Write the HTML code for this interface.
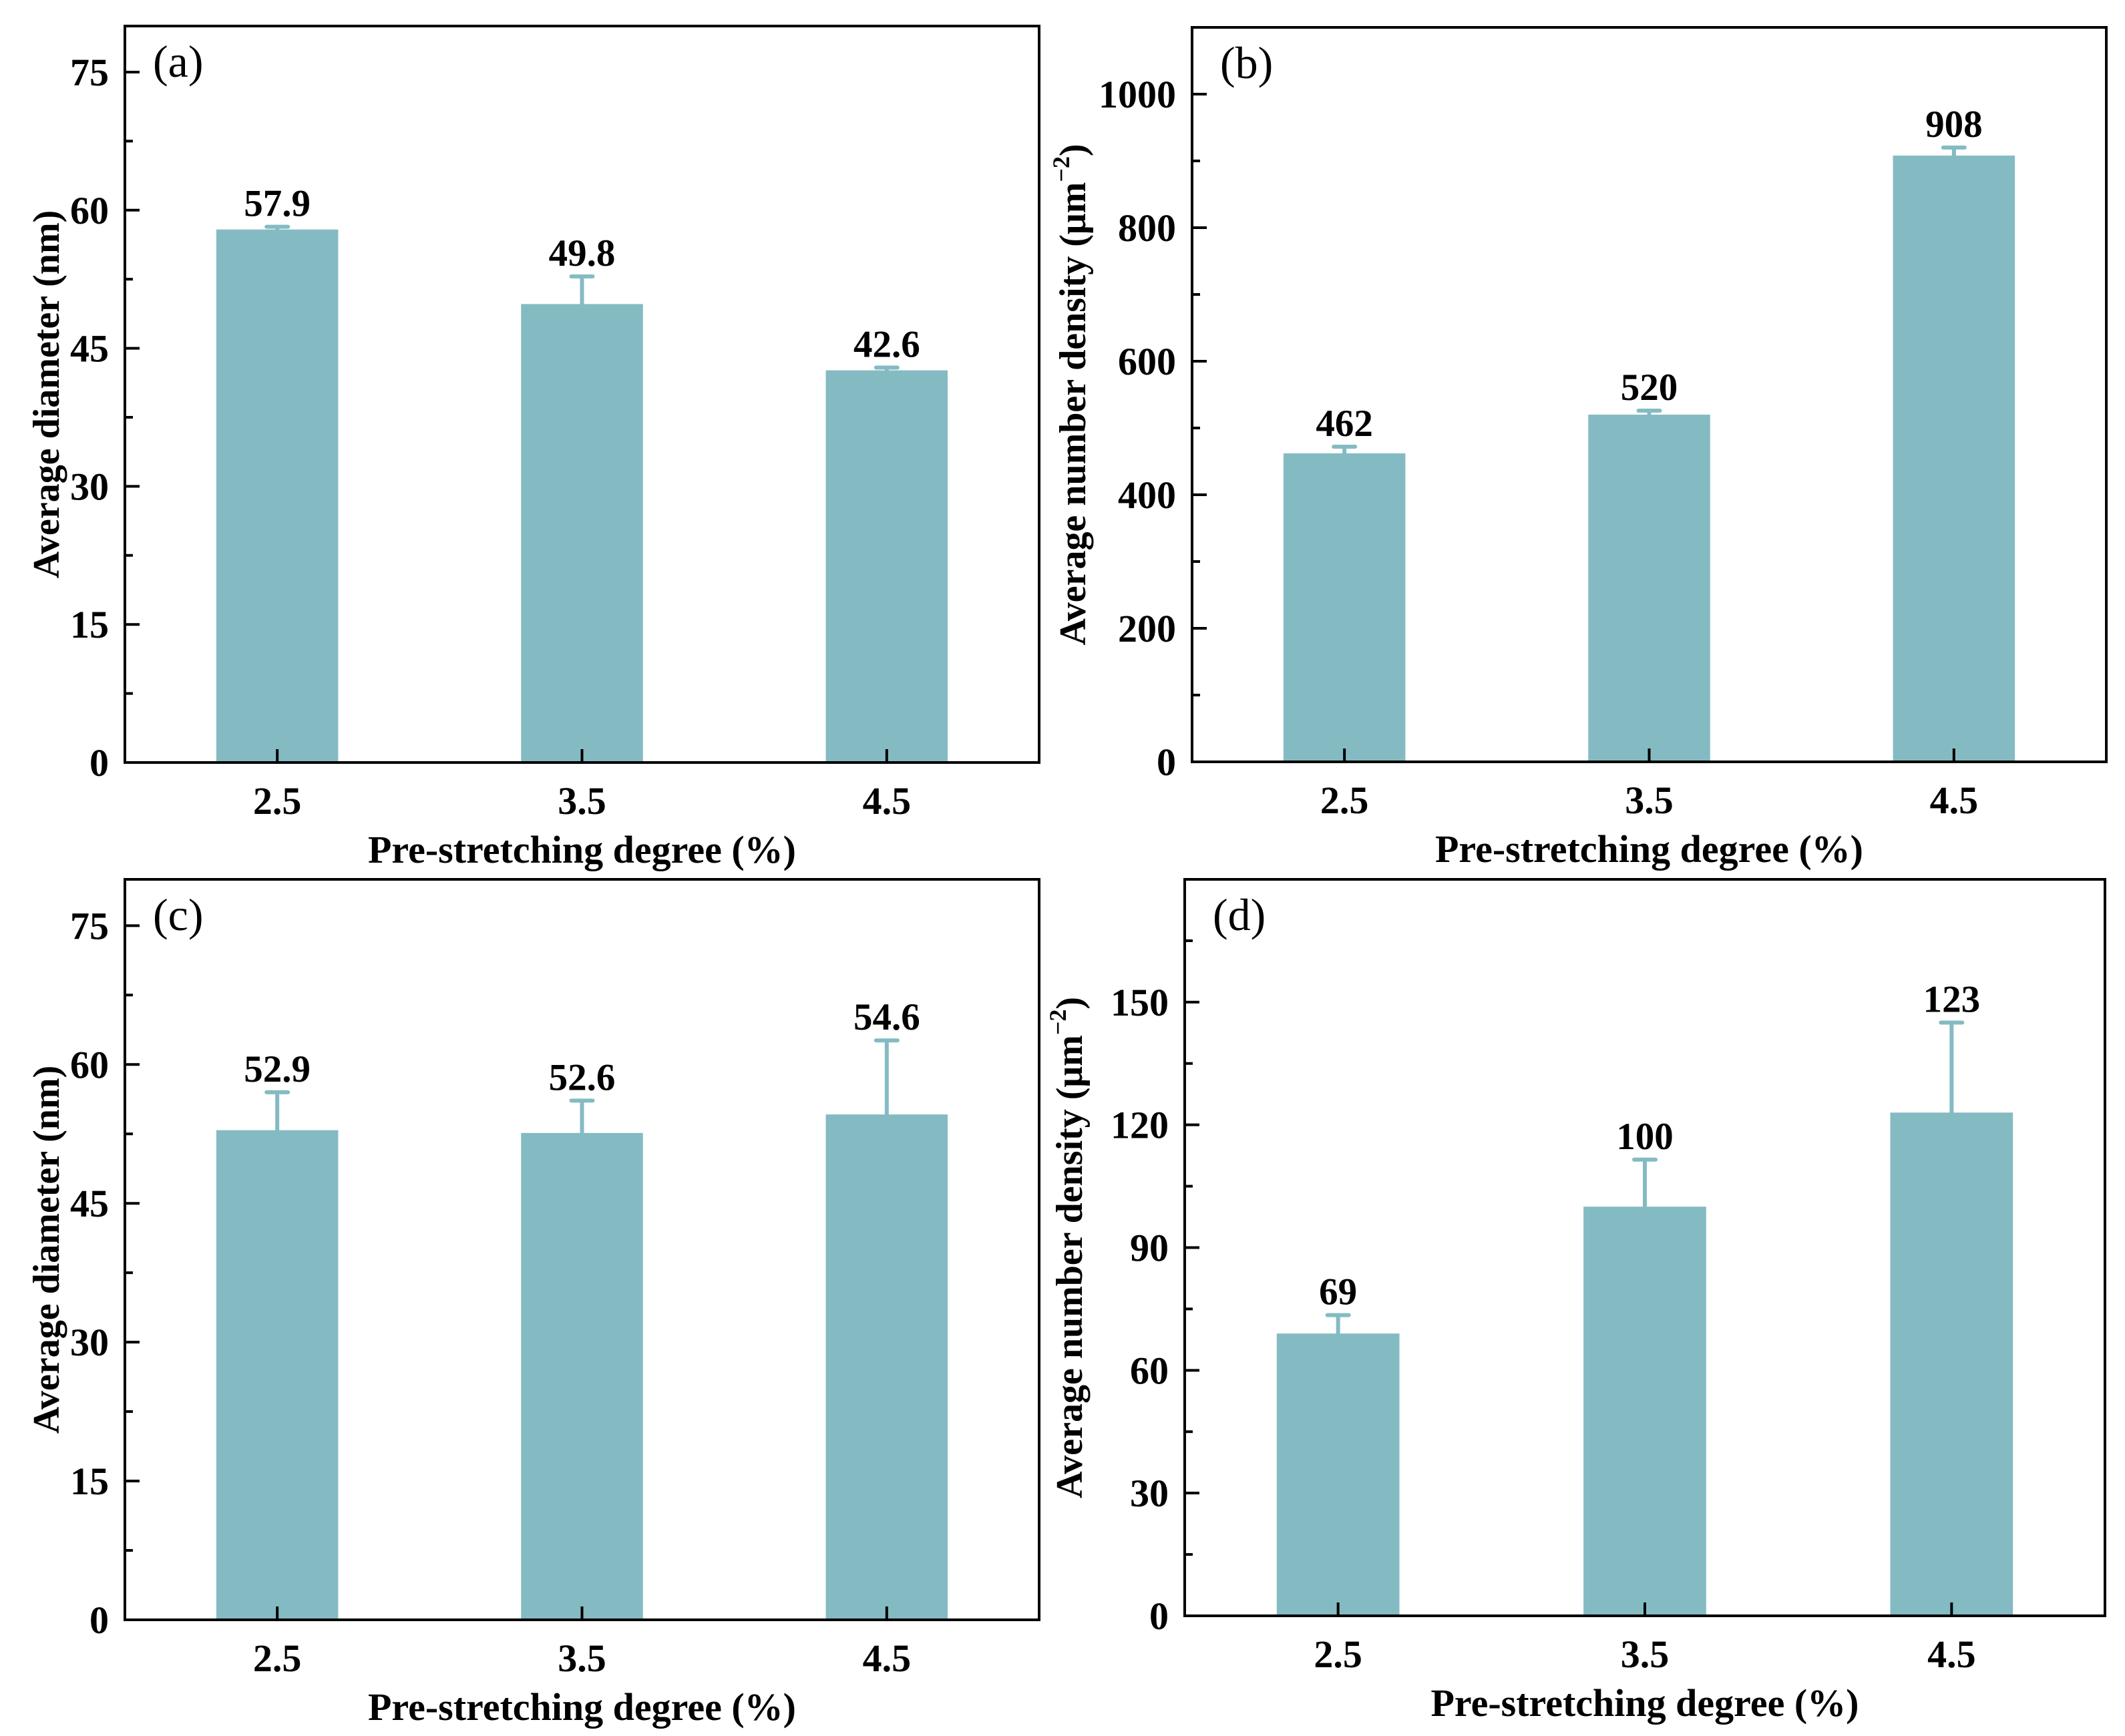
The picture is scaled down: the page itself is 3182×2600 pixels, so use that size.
<!DOCTYPE html>
<html><head><meta charset="utf-8">
<style>
html,body{margin:0;padding:0;background:#fff;}
svg{display:block;}
text{font-family:"Liberation Serif",serif;fill:#000;}
</style></head>
<body>
<svg id="fig" width="3182" height="2600" viewBox="0 0 3182 2600" xmlns="http://www.w3.org/2000/svg"></svg>
<script>
const categories = ["2.5", "3.5", "4.5"];
const valuesA = [57.9, 49.8, 42.6];
const errorsA = [0.3, 3.0, 0.3];
const valuesB = [462, 520, 908];
const errorsB = [10, 6, 12];
const valuesC = [52.9, 52.6, 54.6];
const errorsC = [4.1, 3.5, 8.0];
const valuesD = [69, 100, 123];
const errorsD = [4.5, 11.5, 22];
const ticksA = [0, 15, 30, 45, 60, 75];
const ticksB = [0, 200, 400, 600, 800, 1000];
const ticksC = [0, 15, 30, 45, 60, 75];
const ticksD = [0, 30, 60, 90, 120, 150];
const labelsA = ["57.9", "49.8", "42.6"];
const labelsB = ["462", "520", "908"];
const labelsC = ["52.9", "52.6", "54.6"];
const labelsD = ["69", "100", "123"];

const NS = "http://www.w3.org/2000/svg";
const svg = document.getElementById("fig");
function mk(tag, attrs, parent) {
  const e = document.createElementNS(NS, tag);
  for (const k in attrs) e.setAttribute(k, attrs[k]);
  parent.appendChild(e);
  return e;
}
const BAR = "#84bbc3";

function panel(cfg) {
  const g = mk("g", {}, svg);
  
  
  const L = cfg.left, R = cfg.right, T = cfg.top, B = cfg.bottom;
  const xScale = v => L + (v - 2.0) / 3.0 * (R - L);
  const yScale = v => B - v / cfg.ymax * (B - T);
  const xs = categories.map(c => parseFloat(c));
  cfg.values.forEach((v, i) => {
    const x = xScale(xs[i]);
    const hw = 0.2 / 3.0 * (R - L);
    const r = mk("rect", {x: x - hw, y: yScale(v), width: 2 * hw, height: B - yScale(v), fill: BAR}, g);
    
    
    const top = yScale(v + cfg.errors[i]);
    const eg = mk("g", {stroke: BAR, "stroke-width": 6, "stroke-linecap": "round"}, g);
    
    
    mk("line", {x1: x, x2: x, y1: yScale(v), y2: top}, eg);
    mk("line", {x1: x - 16, x2: x + 16, y1: top, y2: top}, eg);
    const t = mk("text", {x: x, y: top - 16, "font-size": 57, "font-weight": "bold", "text-anchor": "middle"}, g);
    t.textContent = cfg.labels[i];
    
    
  });
  const f = mk("rect", {x: L, y: T, width: R - L, height: B - T, fill: "none", stroke: "#000", "stroke-width": 4}, g);
  
  
  const step = cfg.ticks[1] - cfg.ticks[0];
  for (let v = 0; v <= cfg.ymax + 1e-9; v += step / 2) {
    const major = cfg.ticks.some(t => Math.abs(t - v) < 1e-9);
    const y = yScale(v);
    if (y < T + 2) continue;
    mk("line", {x1: L, x2: L + (major ? 22 : 12), y1: y, y2: y, stroke: "#000", "stroke-width": 4}, g);
  }
  cfg.ticks.forEach(v => {
    const t = mk("text", {x: L - 24, y: yScale(v) + 20, "font-size": 58, "font-weight": "bold", "text-anchor": "end"}, g);
    t.textContent = String(v);
    
    
  });
  xs.forEach((xv, i) => {
    const x = xScale(xv);
    mk("line", {x1: x, x2: x, y1: B, y2: B - 20, stroke: "#000", "stroke-width": 4}, g);
    const t = mk("text", {x: x, y: B + 77, "font-size": 58, "font-weight": "bold", "text-anchor": "middle"}, g);
    t.textContent = categories[i];
    
    
  });
  const xt = mk("text", {x: (L + R) / 2, y: B + 150, "font-size": 58, "font-weight": "bold", "text-anchor": "middle"}, g);
  xt.textContent = "Pre-stretching degree (%)";
  
  
  const ty = (T + B) / 2;
  const yt = mk("text", {x: cfg.ytx, y: ty, "font-size": 56, "font-weight": "bold", "text-anchor": "middle", transform: "rotate(-90 " + cfg.ytx + " " + ty + ")"}, g);
  if (cfg.density) {
    yt.appendChild(document.createTextNode("Average number density (μm"));
    const s = mk("tspan", {"font-size": 36, dy: -24}, yt);
    s.textContent = "−2";
    const s2 = mk("tspan", {dy: 24}, yt);
    s2.textContent = ")";
  } else {
    yt.textContent = "Average diameter (nm)";
  }
  
  
  const pl = mk("text", {x: L + 42, y: T + 76, "font-size": 68, "text-anchor": "start"}, g);
  pl.textContent = "(" + cfg.id + ")";
  
  
}

panel({id: "a", left: 187, right: 1556, top: 39, bottom: 1142, ymax: 80, values: valuesA, errors: errorsA, ticks: ticksA, labels: labelsA, ytx: 88, density: false});
panel({id: "b", left: 1785, right: 3154, top: 41, bottom: 1141, ymax: 1100, values: valuesB, errors: errorsB, ticks: ticksB, labels: labelsB, ytx: 1625, density: true});
panel({id: "c", left: 187, right: 1556, top: 1317, bottom: 2426, ymax: 80, values: valuesC, errors: errorsC, ticks: ticksC, labels: labelsC, ytx: 88, density: false});
panel({id: "d", left: 1774, right: 3152, top: 1317, bottom: 2420, ymax: 180, values: valuesD, errors: errorsD, ticks: ticksD, labels: labelsD, ytx: 1620, density: true});
</script>
</body></html>
